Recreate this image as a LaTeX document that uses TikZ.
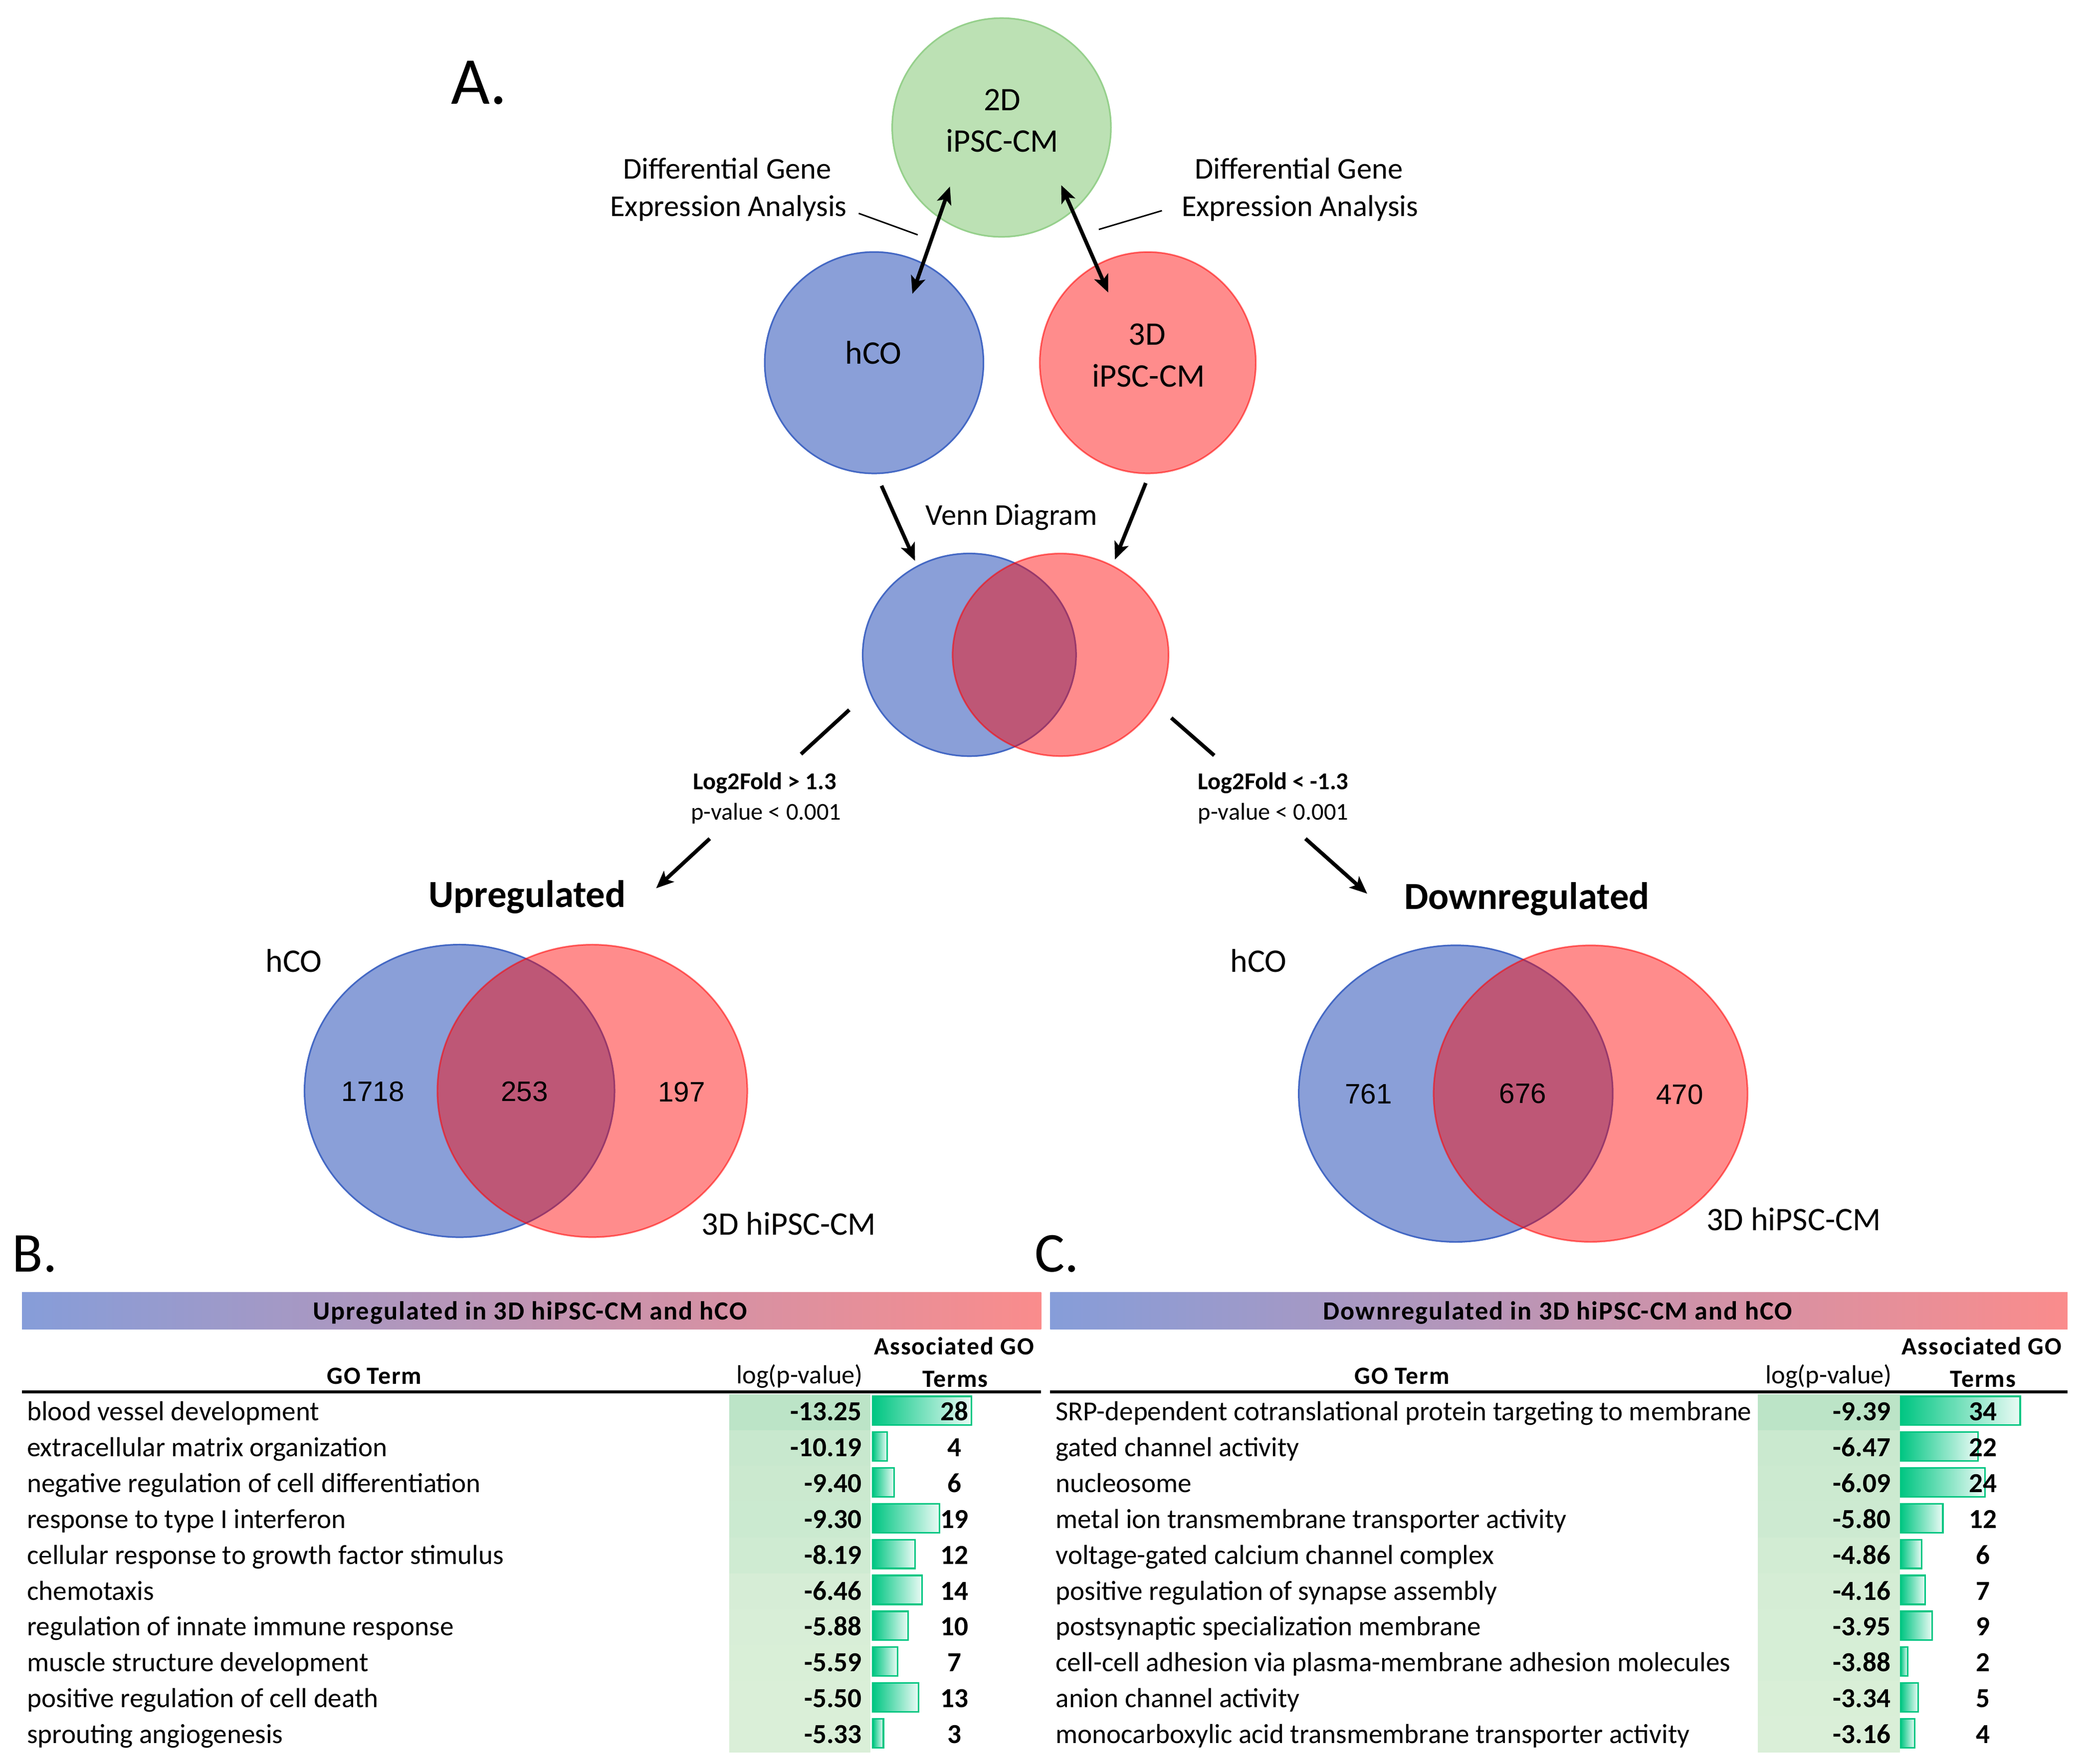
\documentclass[tikz,border=0pt]{standalone}
\usepackage{fontspec}
\setmainfont{Carlito}
\newfontfamily\numfont{Liberation Sans}
\newfontfamily\spfont[LetterSpace=4]{Carlito}
\usetikzlibrary{arrows.meta,shapes.geometric}
\definecolor{cBlueF}{RGB}{138,159,216}
\definecolor{cBlueD}{RGB}{68,104,196}
\definecolor{cRed}{RGB}{255,0,0}
\definecolor{cGreenF}{RGB}{188,225,180}
\definecolor{cGreenD}{RGB}{150,208,140}
\definecolor{barG}{RGB}{0,198,130}
\definecolor{cellDark}{RGB}{188,228,199}
\definecolor{cellLight}{RGB}{218,239,216}
\definecolor{hdrL}{RGB}{134,157,217}
\definecolor{hdrR}{RGB}{250,140,140}
\tikzset{
  bluec/.style={ellipse, draw=cBlueD, line width=1.2pt, fill=cBlueF, inner sep=0pt, outer sep=0pt},
  redc/.style={ellipse, draw=cRed, draw opacity=0.55, fill=cRed, fill opacity=0.45, line width=1.2pt, inner sep=0pt, outer sep=0pt},
  greenc/.style={ellipse, draw=cGreenD, line width=1.2pt, fill=cGreenF, inner sep=0pt, outer sep=0pt},
  arr/.style={line width=2.8pt, -{Stealth[length=13pt,width=11pt,inset=3pt]}},
  darr/.style={line width=2.8pt, {Stealth[length=13pt,width=11pt,inset=3pt]}-{Stealth[length=13pt,width=11pt,inset=3pt]}},
  plainseg/.style={line width=2.8pt},
  leader/.style={line width=1.1pt},
  circtxt/.style={font=\fontsize{24.5}{28}\selectfont, inner sep=0pt, anchor=base},
  lbl/.style={font=\fontsize{22.5}{27}\selectfont, inner sep=0pt, anchor=base},
  small/.style={font=\fontsize{18}{21}\selectfont, inner sep=0pt, anchor=base},
  smallb/.style={font=\bfseries\fontsize{18}{21}\selectfont, inner sep=0pt, anchor=base},
  bigb/.style={font=\bfseries\fontsize{28.5}{33}\selectfont, inner sep=0pt, anchor=base},
  panel/.style={font=\fontsize{42}{48}\selectfont, inner sep=0pt, anchor=base west},
  vnum/.style={font=\numfont\fontsize{21}{25}\selectfont, inner sep=0pt, anchor=base},
  rowtxt/.style={font=\fontsize{20.5}{24}\selectfont, inner sep=0pt},
  rowbold/.style={font=\bfseries\fontsize{20.5}{24}\selectfont, inner sep=0pt},
  hdr/.style={font=\spfont\bfseries\fontsize{18.5}{22}\selectfont, inner sep=0pt, anchor=base},
  hdrlog/.style={font=\fontsize{19.5}{23}\selectfont, inner sep=0pt, anchor=base},
  titletxt/.style={font=\spfont\bfseries\fontsize{19.5}{23}\selectfont, inner sep=0pt, anchor=base},
  titlebar/.style={left color=hdrL, right color=hdrR},
  databar/.style={left color=barG, right color=barG!8, draw=barG, line width=1.2pt},
  rule/.style={line width=2.3pt, black}
}
\begin{document}
\begin{tikzpicture}[x=1pt,y=-1pt]
\useasboundingbox (0,0) rectangle (1560,1314.3);
\fill[white] (0,0) rectangle (1560,1314.3);

% ---------- Panel A ----------
\node[panel, font=\fontsize{50}{56}\selectfont] (labA) at (336,77.4) {A.};

\node[greenc, minimum width=163pt, minimum height=163pt] (c2d) at (746.5,95) {};
\node[bluec, minimum width=163pt, minimum height=165pt] (chco) at (651.5,270.3) {};
\node[redc, minimum width=161pt, minimum height=165pt] (c3d) at (855.5,270.3) {};

\node[circtxt] (t2d) at (747,82.5) {2D};
\node[circtxt] (t2db) at (747,113.2) {iPSC-CM};
\node[circtxt] (thco) at (651,271.1) {hCO};
\node[circtxt] (t3d) at (855,256.9) {3D};
\node[circtxt] (t3db) at (856,288.2) {iPSC-CM};

\node[lbl] (dgeL1) at (542,133.1) {Differential Gene};
\node[lbl] (dgeL2) at (543,161) {Expression Analysis};
\node[lbl] (dgeR1) at (968,133.1) {Differential Gene};
\node[lbl] (dgeR2) at (969,161) {Expression Analysis};

\coordinate (ll1) at (640,159);
\coordinate (ll2) at (684,175);
\coordinate (lr1) at (819,171);
\coordinate (lr2) at (866,157);
\draw[leader] (ll1) -- (ll2);
\draw[leader] (lr1) -- (lr2);

\coordinate (dl1) at (708,139);
\coordinate (dl2) at (680,219);
\coordinate (dr1) at (791,138);
\coordinate (dr2) at (826,218);
\draw[darr] (dl1) -- (dl2);
\draw[darr] (dr1) -- (dr2);

\node[lbl] (venlbl) at (754,391.2) {Venn Diagram};
\coordinate (vl1) at (657,362);
\coordinate (vl2) at (682,418);
\coordinate (vr1) at (854,360);
\coordinate (vr2) at (831,417);
\draw[arr] (vl1) -- (vl2);
\draw[arr] (vr1) -- (vr2);

\node[bluec, minimum width=159pt, minimum height=151pt] (mvb) at (722.5,488) {};
\node[redc, minimum width=161pt, minimum height=151pt] (mvr) at (790.5,488) {};

% split arrows
\node[smallb] (upc1) at (570,588.5) {Log2Fold > 1.3};
\node[small] (upc2) at (571,611) {p-value < 0.001};
\node[smallb] (dnc1) at (949,588.5) {Log2Fold < -1.3};
\node[small] (dnc2) at (949,611) {p-value < 0.001};

\coordinate (ua1) at (633,529);
\coordinate (ua2) at (597,562);
\coordinate (ua3) at (529,625);
\coordinate (ua4) at (489,662);
\draw[plainseg] (ua1) -- (ua2);
\draw[arr] (ua3) -- (ua4);
\coordinate (da1) at (873,535);
\coordinate (da2) at (905,563);
\coordinate (da3) at (973,625);
\coordinate (da4) at (1019,666);
\draw[plainseg] (da1) -- (da2);
\draw[arr] (da3) -- (da4);

\node[bigb] (upt) at (393,676) {Upregulated};
\node[bigb] (dnt) at (1138,677.5) {Downregulated};

% lower Venn diagrams
\node[bluec, minimum width=231pt, minimum height=218pt] (uvb) at (342.5,813) {};
\node[redc, minimum width=231pt, minimum height=218pt] (uvr) at (441.5,813) {};
\node[bluec, minimum width=234pt, minimum height=221pt] (dvb) at (1085,815) {};
\node[redc, minimum width=234pt, minimum height=221pt] (dvr) at (1185.5,815) {};

\node[circtxt] (uhco) at (219,724.3) {hCO};
\node[circtxt] (u3d) at (588,920.2) {3D hiPSC-CM};
\node[circtxt] (dhco) at (938,724.3) {hCO};
\node[circtxt] (d3d) at (1337,916.9) {3D hiPSC-CM};

\node[vnum] (n1718) at (278,820.6) {1718};
\node[vnum] (n253) at (391,820.6) {253};
\node[vnum] (n197) at (508,821) {197};
\node[vnum] (n761) at (1020,822.6) {761};
\node[vnum] (n676) at (1135,822.3) {676};
\node[vnum] (n470) at (1252,823) {470};

% ---------- Panel B ----------
\node[panel] (labB) at (9,948) {B.};
\path[titlebar] (16.4,963) rectangle (776,990.5);
\node[titletxt] (btitle) at (395,983.7) {Upregulated in 3D hiPSC-CM and hCO};
\node[hdr] (bgo) at (279,1031.6) {GO Term};
\node[hdrlog] (blog) at (596,1031) {log(p-value)};
\node[hdr] (bass) at (711,1009.4) {Associated GO};
\node[hdr] (bterm) at (712,1033.6) {Terms};
\draw[rule] (16.4,1037.4) -- (776,1037.4);

\foreach \term/\val/\cnt [count=\i from 0] in {
  blood vessel development/-13.25/28,
  extracellular matrix organization/-10.19/4,
  negative regulation of cell differentiation/-9.40/6,
  response to type I interferon/-9.30/19,
  cellular response to growth factor stimulus/-8.19/12,
  chemotaxis/-6.46/14,
  regulation of innate immune response/-5.88/10,
  muscle structure development/-5.59/7,
  positive regulation of cell death/-5.50/13,
  sprouting angiogenesis/-5.33/3}{
  \pgfmathsetmacro{\yb}{1058.8+26.7*\i}
  \pgfmathsetmacro{\yt}{1039+26.7*\i}
  \pgfmathtruncatemacro{\pc}{round(100*(-5.33-(\val))/7.92)}
  \colorlet{cc}{cellDark!\pc!cellLight}
  \fill[cc] (543.7,\yt) rectangle (648.8,\yt+26.75);
  \path[databar] (650.6,\yt+1.6) rectangle ++(2.62*\cnt,21.5);
  \node[rowtxt, anchor=base west] (bT\i) at (20,\yb) {\term};
  \node[rowbold, anchor=base east] (bV\i) at (642.5,\yb) {\val};
  \node[rowbold, anchor=base] (bN\i) at (711.5,\yb) {\cnt};
}

% ---------- Panel C ----------
\node[panel] (labC) at (771,948) {C.};
\path[titlebar] (782.7,963) rectangle (1541,990.5);
\node[titletxt] (ctitle) at (1161,983.7) {Downregulated in 3D hiPSC-CM and hCO};
\node[hdr] (cgo) at (1045,1031.6) {GO Term};
\node[hdrlog] (clog) at (1363,1031) {log(p-value)};
\node[hdr] (cass) at (1477,1009.4) {Associated GO};
\node[hdr] (cterm) at (1478,1033.6) {Terms};
\draw[rule] (782.7,1037.4) -- (1541,1037.4);

\foreach \term/\val/\cnt [count=\i from 0] in {
  SRP-dependent cotranslational protein targeting to membrane/-9.39/34,
  gated channel activity/-6.47/22,
  nucleosome/-6.09/24,
  metal ion transmembrane transporter activity/-5.80/12,
  voltage-gated calcium channel complex/-4.86/6,
  positive regulation of synapse assembly/-4.16/7,
  postsynaptic specialization membrane/-3.95/9,
  cell-cell adhesion via plasma-membrane adhesion molecules/-3.88/2,
  anion channel activity/-3.34/5,
  monocarboxylic acid transmembrane transporter activity/-3.16/4}{
  \pgfmathsetmacro{\yb}{1058.8+26.7*\i}
  \pgfmathsetmacro{\yt}{1039+26.7*\i}
  \pgfmathtruncatemacro{\pc}{round(100*(-3.16-(\val))/6.23)}
  \colorlet{cc}{cellDark!\pc!cellLight}
  \fill[cc] (1310,\yt) rectangle (1416,\yt+26.75);
  \path[databar] (1416.6,\yt+1.6) rectangle ++(2.62*\cnt,21.5);
  \node[rowtxt, anchor=base west] (cT\i) at (786.7,\yb) {\term};
  \node[rowbold, anchor=base east] (cV\i) at (1409.4,\yb) {\val};
  \node[rowbold, anchor=base] (cN\i) at (1478,\yb) {\cnt};
}
\end{tikzpicture}
\end{document}
